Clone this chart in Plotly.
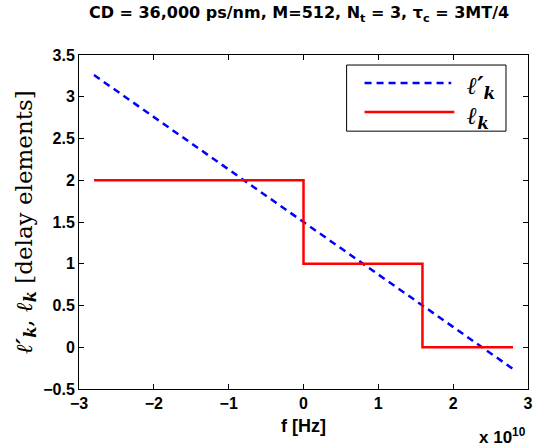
import plotly.graph_objects as go

# Frequency grid endpoints [Hz] and the continuous delay l'_k
f_cont = [-2.8e10, 2.8e10]
ell_prime = [3.26, -0.26]

# Quantised delay l_k (piecewise constant, switching at the step frequencies)
f_step = [-2.8e10, 0.0, 1.59e10, 2.8e10]
ell_step = [2, 1, 0, 0]

x_ticks = [-3, -2, -1, 0, 1, 2, 3]
y_ticks = [-0.5, 0, 0.5, 1, 1.5, 2, 2.5, 3, 3.5]

SCALE = 1e10
sans = "Liberation Sans, Arial, sans-serif"
serif = "Liberation Serif, Times New Roman, serif"
math = "DejaVu Serif, serif"

BLUE = "#0000ff"
RED = "#ff0000"
BLUE_DASH = "7px,5px"


def tick_label(v):
    return "<b>" + ("−" if v < 0 else "") + f"{abs(v):g}" + "</b>"


def ell(prime=False):
    p = "′" if prime else ""
    return f"<b><i>ℓ{p}<sub>k</sub></i></b>"


fig = go.Figure()
fig.add_trace(go.Scatter(
    x=[v / SCALE for v in f_cont], y=ell_prime, mode="lines",
    line=dict(color=BLUE, width=2.5, dash=BLUE_DASH),
    name="ℓ′_k", showlegend=False,
))
fig.add_trace(go.Scatter(
    x=[v / SCALE for v in f_step], y=ell_step, mode="lines",
    line=dict(color=RED, width=2.5, shape="hv"),
    name="ℓ_k", showlegend=False,
))

axis_common = dict(
    showgrid=False, zeroline=False, showline=True, linecolor="black",
    linewidth=1, mirror="ticks", ticks="inside", ticklen=5,
    tickcolor="black", tickfont=dict(family=sans, size=16, color="black"),
    automargin=False, ticklabeloverflow="allow",
)

# Boxed legend in the upper-right corner of the axes
shapes = [
    dict(type="rect", xref="paper", yref="paper", x0=0.596, x1=0.951, y0=0.772, y1=0.970,
         line=dict(color="black", width=1), fillcolor="white", layer="above"),
    dict(type="line", xref="paper", yref="paper", x0=0.636, x1=0.829, y0=0.916, y1=0.916,
         line=dict(color=BLUE, width=2.5, dash=BLUE_DASH), layer="above"),
    dict(type="line", xref="paper", yref="paper", x0=0.636, x1=0.836, y0=0.829, y1=0.829,
         line=dict(color=RED, width=2.5), layer="above"),
]

annotations = [
    dict(text=ell(True), xref="paper", yref="paper", x=0.86, y=0.905,
         xanchor="left", yanchor="middle", showarrow=False,
         font=dict(family=math, size=24, color="black")),
    dict(text=ell(False), xref="paper", yref="paper", x=0.86, y=0.815,
         xanchor="left", yanchor="middle", showarrow=False,
         font=dict(family=math, size=24, color="black")),
    dict(text="<b>x 10<sup>10</sup></b>", xref="paper", yref="paper",
         x=1.0, y=-0.142, xanchor="right", yanchor="middle", showarrow=False,
         font=dict(family=sans, size=17, color="black")),
]

fig.update_layout(
    width=534, height=448,
    margin=dict(l=79, r=6, t=55, b=59),
    paper_bgcolor="white", plot_bgcolor="white",
    showlegend=False,
    title=dict(
        text="<b>CD = 36,000 ps/nm, M=512, N<sub>t</sub> = 3, τ<sub>c</sub> = 3MT/4</b>",
        x=0.49, xref="paper", y=0.972, yanchor="middle",
        font=dict(family="DejaVu Sans, sans-serif", size=16, color="black"),
    ),
    xaxis=dict(
        range=[-3.0005, 3.0005], tickmode="array", tickvals=x_ticks,
        ticktext=[tick_label(v) for v in x_ticks],
        title=dict(text="<b>f [Hz]</b>", font=dict(family=sans, size=18, color="black"), standoff=8),
        **axis_common,
    ),
    yaxis=dict(
        range=[-0.5, 3.5], tickmode="array", tickvals=y_ticks,
        ticktext=[tick_label(v) for v in y_ticks],
        title=dict(
            text=ell(True) + ", " + ell(False) + " [delay elements]",
            font=dict(family=math, size=23, color="black"), standoff=4,
        ),
        **axis_common,
    ),
    shapes=shapes,
    annotations=annotations,
)

fig.write_html("out.html")
